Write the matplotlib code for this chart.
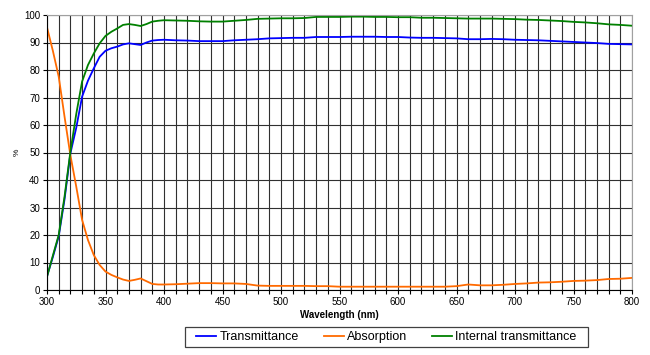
import matplotlib
matplotlib.use("Agg")
import matplotlib.pyplot as plt
from matplotlib.patches import Rectangle
from matplotlib.ticker import MultipleLocator


# --- Data (5 nm steps up to 400 nm, then 10 nm) ---
wavelength = list(range(300, 400, 5)) + list(range(400, 801, 10))

transmittance = [
    5, 12, 19.5, 33, 49.7, 59, 70.3, 76.1, 80.6, 84.8,
    87.0, 87.9, 88.5, 89.3, 89.7, 89.4, 89.1, 90.0, 90.7, 90.9,
    91.0, 90.8, 90.7, 90.5, 90.5, 90.5, 90.8, 91.0, 91.2, 91.5,
    91.6, 91.7, 91.7, 92.0, 92.0, 92.0, 92.1, 92.1, 92.1, 92.0,
    92.0, 91.8, 91.7, 91.7, 91.6, 91.5, 91.2, 91.2, 91.3, 91.2,
    91.0, 90.9, 90.8, 90.6, 90.4, 90.2, 90.0, 89.8, 89.5, 89.4,
    89.3,
]

absorption = [
    95.5, 87, 77.6, 63, 49, 37.6, 25.5, 18.2, 12.7, 9.1,
    6.7, 5.5, 4.6, 3.8, 3.3, 3.7, 4.2, 3.2, 2.2, 2.0,
    2.0, 2.1, 2.3, 2.5, 2.5, 2.4, 2.4, 2.2, 1.6, 1.5,
    1.5, 1.5, 1.5, 1.4, 1.4, 1.2, 1.2, 1.2, 1.2, 1.2,
    1.2, 1.2, 1.2, 1.2, 1.2, 1.4, 2.0, 1.7, 1.7, 1.9,
    2.2, 2.4, 2.7, 2.8, 3.0, 3.3, 3.4, 3.6, 4.0, 4.1,
    4.4,
]

internal = [
    4.8, 12.5, 20, 34, 50.3, 64, 75.8, 81.8, 86, 89.7,
    92.4, 93.9, 95.1, 96.4, 96.7, 96.4, 96.0, 96.7, 97.6, 97.9,
    98.1, 98.0, 97.9, 97.7, 97.6, 97.6, 97.9, 98.2, 98.6, 98.7,
    98.8, 98.8, 98.9, 99.3, 99.3, 99.3, 99.4, 99.4, 99.3, 99.3,
    99.2, 99.2, 99.0, 99.0, 98.9, 98.8, 98.7, 98.7, 98.7, 98.6,
    98.5, 98.3, 98.2, 98.0, 97.8, 97.5, 97.3, 97.0, 96.6, 96.4,
    96.1,
]

series_names = ["Transmittance", "Absorption", "Internal transmittance"]
series_colors = ["#0000FF", "#FF6A00", "#008000"]


def main():
    plt.rcParams["font.family"] = ["Liberation Sans", "DejaVu Sans"]

    fig = plt.figure(figsize=(6.5, 3.55), dpi=100)
    ax = fig.add_axes([47 / 650, 1 - 290 / 355, 585 / 650, 275 / 355])

    for values, name, color in zip([transmittance, absorption, internal],
                                    series_names, series_colors):
        ax.plot(wavelength, values, color=color, lw=1.3, label=name)

    ax.set_xlim(300, 800)
    ax.set_ylim(0, 100)
    ax.xaxis.set_major_locator(MultipleLocator(50))
    ax.xaxis.set_minor_locator(MultipleLocator(10))
    ax.yaxis.set_major_locator(MultipleLocator(10))

    ax.grid(which="both", axis="x", color="#303030", lw=0.8)
    ax.grid(which="major", axis="y", color="#303030", lw=0.8)
    ax.set_axisbelow(True)

    ax.tick_params(which="both", direction="out", length=3, width=0.8,
                   labelsize=7, pad=2)

    for side in ["top", "right"]:
        ax.spines[side].set_color("#a0a0a0")
    for side in ["left", "bottom"]:
        ax.spines[side].set_color("#000000")
    for sp in ax.spines.values():
        sp.set_linewidth(0.8)

    ax.set_xlabel("Wavelength (nm)", fontsize=7, fontweight="bold", labelpad=2)
    ax.set_ylabel("%", fontsize=6, labelpad=2)

    # legend without its own frame; the box is drawn separately so that its
    # horizontal padding can be wider than the vertical one
    fig.legend(loc="center", bbox_to_anchor=(386.5 / 650, 1 - 337 / 355),
               ncol=3, fontsize=9, frameon=False, handlelength=1.6,
               columnspacing=2.0, handletextpad=0.25)
    fig.patches.append(Rectangle((185 / 650, 1 - 347 / 355), 403 / 650,
                                 20 / 355, transform=fig.transFigure,
                                 fill=False, edgecolor="#404040", lw=0.9))

    fig.savefig("out.png", dpi=100)


if __name__ == "__main__":
    main()
